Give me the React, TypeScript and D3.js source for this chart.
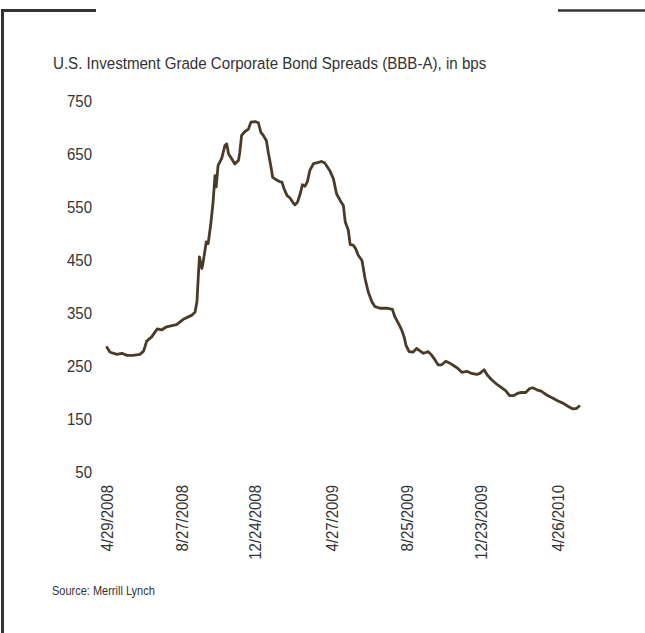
import React from "react";
import * as d3 from "d3";

const titleText = "U.S. Investment Grade Corporate Bond Spreads (BBB-A), in bps";
const sourceText = "Source: Merrill Lynch";

const yTicks = [50, 150, 250, 350, 450, 550, 650, 750];
const xTickLabels = ["4/29/2008", "8/27/2008", "12/24/2008", "4/27/2009", "8/25/2009", "12/23/2009", "4/26/2010"];

const dates = [
  "2008-04-29", "2008-05-04", "2008-05-15", "2008-05-23", "2008-05-31", "2008-06-10", "2008-06-21", "2008-06-27",
  "2008-07-02", "2008-07-10", "2008-07-19", "2008-07-26", "2008-08-03", "2008-08-19", "2008-08-30", "2008-09-13",
  "2008-09-18", "2008-09-21", "2008-09-23", "2008-09-25", "2008-09-29", "2008-10-01", "2008-10-06", "2008-10-09",
  "2008-10-13", "2008-10-17", "2008-10-20", "2008-10-22", "2008-10-25", "2008-10-31", "2008-11-05", "2008-11-08",
  "2008-11-11", "2008-11-16", "2008-11-21", "2008-11-27", "2008-11-29", "2008-12-02", "2008-12-07", "2008-12-13",
  "2008-12-17", "2008-12-24", "2008-12-29", "2009-01-02", "2009-01-06", "2009-01-11", "2009-01-14", "2009-01-18",
  "2009-01-21", "2009-01-26", "2009-02-01", "2009-02-05", "2009-02-08", "2009-02-13", "2009-02-18", "2009-02-23",
  "2009-02-26", "2009-03-02", "2009-03-06", "2009-03-10", "2009-03-14", "2009-03-18", "2009-03-22", "2009-03-28",
  "2009-04-05", "2009-04-10", "2009-04-15", "2009-04-23", "2009-04-29", "2009-05-04", "2009-05-10", "2009-05-15",
  "2009-05-18", "2009-05-23", "2009-05-26", "2009-05-31", "2009-06-04", "2009-06-08", "2009-06-14", "2009-06-19",
  "2009-06-24", "2009-06-30", "2009-07-05", "2009-07-13", "2009-07-24", "2009-08-02", "2009-08-06", "2009-08-12",
  "2009-08-17", "2009-08-21", "2009-08-24", "2009-08-29", "2009-09-04", "2009-09-10", "2009-09-16", "2009-09-21",
  "2009-09-29", "2009-10-04", "2009-10-10", "2009-10-15", "2009-10-20", "2009-10-27", "2009-11-03", "2009-11-11",
  "2009-11-16", "2009-11-22", "2009-11-30", "2009-12-08", "2009-12-16", "2009-12-21", "2009-12-28", "2010-01-02",
  "2010-01-09", "2010-01-17", "2010-01-25", "2010-02-01", "2010-02-07", "2010-02-13", "2010-02-21", "2010-02-26",
  "2010-03-05", "2010-03-11", "2010-03-16", "2010-03-23", "2010-03-31", "2010-04-03", "2010-04-10", "2010-04-18",
  "2010-04-26", "2010-05-04", "2010-05-12", "2010-05-20", "2010-05-26", "2010-05-30",
];

const spreads = [
  285, 276, 272, 274, 270, 270, 272, 278,
  297, 305, 320, 318, 324, 328, 338, 346,
  352, 371, 415, 456, 434, 446, 484, 481,
  515, 559, 609, 588, 628, 642, 666, 669,
  650, 641, 631, 638, 653, 685, 692, 697,
  710, 711, 709, 691, 685, 675, 653, 628,
  606, 602, 598, 597, 586, 572, 567, 558,
  554, 559, 573, 592, 589, 598, 619, 632,
  634, 636, 633, 619, 603, 575, 562, 553,
  522, 506, 479, 478, 471, 459, 449, 415,
  390, 371, 362, 359, 359, 357, 343, 330,
  318, 305, 289, 277, 276, 283, 278, 274,
  277, 271, 261, 252, 252, 259, 255, 249,
  245, 238, 240, 236, 234, 236, 243, 233,
  224, 216, 209, 203, 194, 194, 199, 200,
  200, 207, 209, 205, 202, 199, 194, 189,
  184, 180, 174, 169, 170, 174,
];

const parse = d3.timeParse("%m/%d/%Y");
const parseIso = d3.timeParse("%Y-%m-%d");

export default function App() {
  const W = 645;
  const H = 633;
  const tickDates = xTickLabels.map((s) => parse(s) as Date);

  const x = d3
    .scaleTime()
    .domain([tickDates[0], tickDates[tickDates.length - 1]])
    .range([107, 558]);
  const y = d3.scaleLinear().domain([50, 750]).range([472, 101]);

  const data = dates.map((d, i) => ({ date: parseIso(d) as Date, v: spreads[i] }));
  const line = d3
    .line<{ date: Date; v: number }>()
    .x((d) => x(d.date))
    .y((d) => y(d.v))
    .curve(d3.curveLinear);

  const font = "'Liberation Sans', Arial, sans-serif";
  const textColor = "#333333";
  const narrow = 0.87;

  return (
    <svg
      width={W}
      height={H}
      style={{ position: "absolute", left: 0, top: 0, background: "#ffffff" }}
      fontFamily={font}
    >
      <rect x={0} y={0} width={W} height={H} fill="#ffffff" />
      {/* frame */}
      <path d="M 96 10.5 H 2.5 V 633" fill="none" stroke="#333333" strokeWidth={3} />
      <line x1={558} x2={645} y1={10.5} y2={10.5} stroke="#333333" strokeWidth={2.5} />

      <g transform={`translate(53,69) scale(0.9,1)`}>
        <text x={0} y={0} fontSize={16.8} fill={textColor}>
          {titleText}
        </text>
      </g>

      {yTicks.map((t) => (
        <g key={t} transform={`translate(92,${y(t)}) scale(${narrow},1)`}>
          <text x={0} y={0} dy="0.36em" textAnchor="end" fontSize={17.2} fill={textColor}>
            {t}
          </text>
        </g>
      ))}

      {xTickLabels.map((lab, i) => (
        <text
          key={lab}
          transform={`translate(${x(tickDates[i])},485) rotate(-90) scale(${narrow},1)`}
          dy="0.36em"
          textAnchor="end"
          fontSize={17.2}
          fill={textColor}
        >
          {lab}
        </text>
      ))}

      <path
        d={line(data) || ""}
        fill="none"
        stroke="#4a3b28"
        strokeWidth={2.8}
        strokeLinejoin="round"
        strokeLinecap="round"
      />

      <g transform={`translate(52,595) scale(0.86,1)`}>
        <text x={0} y={0} fontSize={12.8} fill={textColor}>
          {sourceText}
        </text>
      </g>
    </svg>
  );
}
